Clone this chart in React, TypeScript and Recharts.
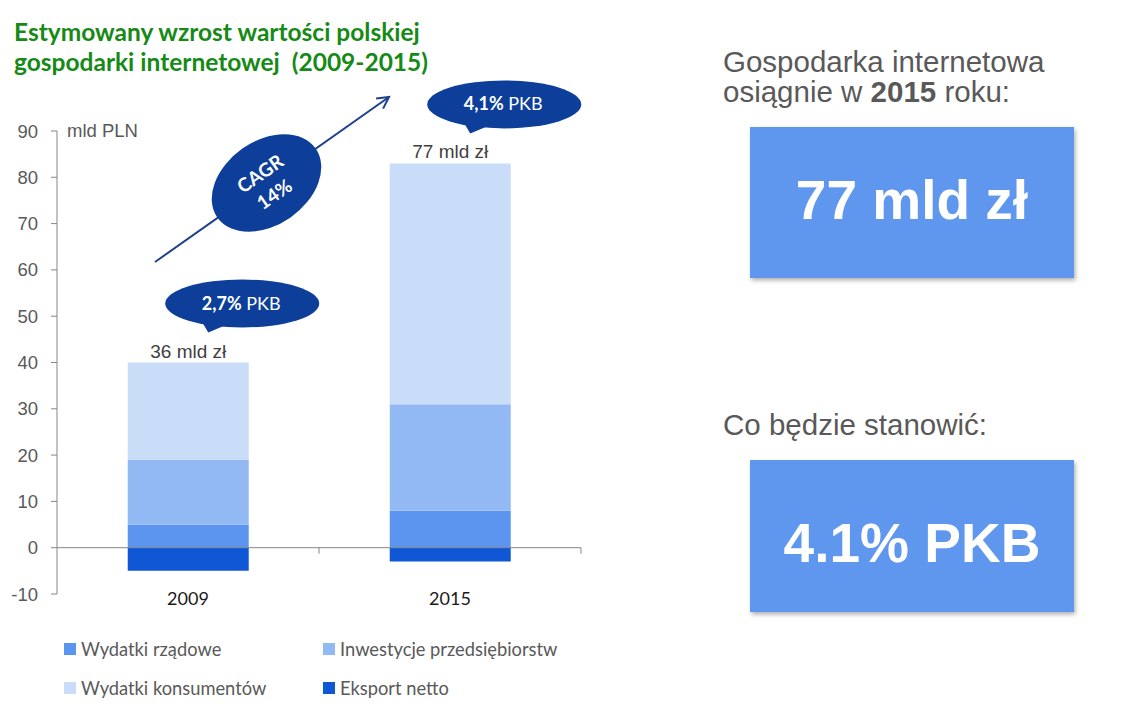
import React from "react";
import { BarChart, Bar, XAxis, YAxis, Legend, LabelList, ReferenceLine } from "recharts";

// values (mld PLN)
const years = ["2009", "2015"];
const wydatkiRzadowe = [5, 8];
const inwestycje = [14, 23];
const konsumenci = [21, 52];
const eksportNetto = [-5, -3];
const totals = ["36 mld zł", "77 mld zł"];
const pkbShare = ["2,7%", "4,1%"];
const yTicks = [-10, 0, 10, 20, 30, 40, 50, 60, 70, 80, 90];

const series = [
  { key: "rzadowe", name: "Wydatki rządowe", color: "#5B95EF" },
  { key: "inwestycje", name: "Inwestycje przedsiębiorstw", color: "#93B9F5" },
  { key: "konsumenci", name: "Wydatki konsumentów", color: "#C9DCF8" },
  { key: "eksport", name: "Eksport netto", color: "#0F57D5" },
];

const data = years.map((year, i) => ({
  year,
  rzadowe: wydatkiRzadowe[i],
  inwestycje: inwestycje[i],
  konsumenci: konsumenci[i],
  eksport: eksportNetto[i],
  total: totals[i],
  pkb: pkbShare[i],
}));

const ARIAL = "'Liberation Sans', Arial, sans-serif";
const CALIBRI = "Lato, 'Open Sans', sans-serif";
const BUBBLE = "#0D3F9A";
const GREY = "#595959";

const ZeroAxis = (props: any) => {
  const x1 = Number(props.x1);
  const x2 = Number(props.x2);
  const y = Number(props.y1);
  const step = (x2 - x1) / years.length;
  return (
    <g>
      <line x1={x1} y1={y} x2={x2} y2={y} stroke="#868686" strokeWidth={1} />
      {years.map((_, i) => (
        <line key={i} x1={x1 + step * (i + 1)} y1={y} x2={x1 + step * (i + 1)} y2={y + 6} stroke="#868686" />
      ))}
    </g>
  );
};

const YearTick = (props: any) => {
  const { x, y, payload } = props;
  return (
    <text x={x} y={Number(y) + 11} textAnchor="middle" fontFamily={CALIBRI} fontSize={18} fill="#1a1a1a">
      {payload.value}
    </text>
  );
};

const TotalLabel = (props: any) => {
  const x = Number(props.x) + Number(props.width) / 2;
  const y = Number(props.y);
  return (
    <text x={x} y={y - 5} textAnchor="middle" fontFamily={ARIAL} fontSize={19} fill="#404040">
      {props.value}
    </text>
  );
};

const PkbBubble = (props: any) => {
  const cx = Number(props.x) + Number(props.width) / 2 + 54;
  const cy = Number(props.y) - 59;
  return (
    <g>
      <path d={`M${cx - 41},${cy + 17} L${cx - 34},${cy + 29} L${cx - 15},${cy + 21} Z`} fill={BUBBLE} />
      <ellipse cx={cx} cy={cy} rx={77} ry={24} fill={BUBBLE} />
      <text x={cx - 1} y={cy + 6} textAnchor="middle" fontFamily={CALIBRI} fontSize={18} fill="#fff">
        <tspan fontWeight={700}>{props.value}</tspan>
        <tspan> PKB</tspan>
      </text>
    </g>
  );
};

const YUnit = (props: any) => {
  const vb = props.viewBox || {};
  return (
    <text x={Number(vb.x) + Number(vb.width) + 10} y={Number(vb.y) + 6} fontFamily={ARIAL} fontSize={18.5} fill={GREY}>
      mld PLN
    </text>
  );
};

const order = series.map((s) => s.key);

const LegendGrid = (props: any) => {
  const items = [...(props.payload || [])].sort(
    (a: any, b: any) => order.indexOf(a.dataKey) - order.indexOf(b.dataKey)
  );
  return (
    <div style={{ display: "grid", gridTemplateColumns: "259px 259px", paddingLeft: 64 }}>
      {items.map((it: any) => (
        <div key={it.value} style={{ display: "flex", alignItems: "center", height: 39 }}>
          <span style={{ width: 12, height: 12, background: it.color, marginRight: 5, flex: "none" }} />
          <span style={{ fontFamily: CALIBRI, fontSize: 18.3, color: GREY, whiteSpace: "nowrap" }}>{it.value}</span>
        </div>
      ))}
    </div>
  );
};

export default function App() {
  return (
    <div style={{ position: "absolute", left: 0, top: 0, width: 1144, height: 721, background: "#fff" }}>
      <div style={{ position: "absolute", left: 0, top: 0 }}>
        <BarChart
          width={600}
          height={721}
          data={data}
          stackOffset="sign"
          barCategoryGap="27%"
          margin={{ top: 131, right: 19, bottom: 97, left: 0 }}
        >
          <ReferenceLine y={0} shape={ZeroAxis} />
          <XAxis
            dataKey="year"
            axisLine={false}
            tickLine={false}
            tickSize={0}
            tickMargin={0}
            height={30}
            tick={YearTick}
          />
          <YAxis
            width={57}
            domain={[-10, 90]}
            ticks={yTicks}
            interval={0}
            axisLine={{ stroke: "#868686" }}
            tickLine={{ stroke: "#868686" }}
            tickSize={6}
            tickMargin={13}
            tick={{ fill: GREY, fontSize: 18.5, fontFamily: ARIAL }}
            label={<YUnit />}
          />
          {series.map((s) => (
            <Bar key={s.key} dataKey={s.key} name={s.name} stackId="a" fill={s.color} isAnimationActive={false}>
              {s.key === "konsumenci" && <LabelList dataKey="total" content={TotalLabel} />}
              {s.key === "konsumenci" && <LabelList dataKey="pkb" content={PkbBubble} />}
            </Bar>
          ))}
          <Legend
            layout="horizontal"
            verticalAlign="middle"
            align="center"
            content={LegendGrid}
            wrapperStyle={{ top: 629, left: 0, width: 600 }}
          />
        </BarChart>
      </div>

      <svg width={1144} height={721} style={{ position: "absolute", left: 0, top: 0, pointerEvents: "none" }}>
        <defs>
          <filter id="boxShadow" x="-5%" y="-5%" width="115%" height="120%">
            <feDropShadow dx="1.5" dy="2.5" stdDeviation="2" floodColor="#000" floodOpacity="0.3" />
          </filter>
        </defs>

        <text fontFamily={CALIBRI} fontWeight={700} fontSize={24.5} fill="#168A16">
          <tspan x={14} y={41}>Estymowany wzrost wartości polskiej</tspan>
          <tspan x={14} y={71}>gospodarki internetowej{"\u00a0"} (2009-2015)</tspan>
        </text>

        <line x1={155} y1={262} x2={389} y2={97} stroke="#1F3F8F" strokeWidth={2} />
        <polyline points="376.1,98.6 389,97 383.1,108.6" fill="none" stroke="#1F3F8F" strokeWidth={2} />
        <g transform="translate(266.5,183) rotate(-35)">
          <ellipse rx={60} ry={42} fill={BUBBLE} />
          <text textAnchor="middle" fontFamily={CALIBRI} fontWeight={700} fontSize={19} fill="#fff">
            <tspan x={0} y={-4.5}>CAGR</tspan>
            <tspan x={0} y={20.5}>14%</tspan>
          </text>
        </g>

        <text fontFamily={ARIAL} fontSize={29.5} fill={GREY}>
          <tspan x={723} y={72}>Gospodarka internetowa</tspan>
          <tspan x={723} y={102}>osiągnie w </tspan>
          <tspan fontWeight={700}>2015</tspan>
          <tspan> roku:</tspan>
        </text>
        <rect x={750} y={127} width={324} height={151} fill="#5F97EF" filter="url(#boxShadow)" />
        <text x={912} y={219} textAnchor="middle" fontFamily={ARIAL} fontWeight={700} fontSize={55} fill="#fff">
          77 mld zł
        </text>

        <text x={723} y={435} fontFamily={ARIAL} fontSize={29.5} fill={GREY}>
          Co będzie stanowić:
        </text>
        <rect x={750} y={460} width={324} height={152} fill="#5F97EF" filter="url(#boxShadow)" />
        <text x={912} y={562} textAnchor="middle" fontFamily={ARIAL} fontWeight={700} fontSize={55} fill="#fff">
          4.1% PKB
        </text>
      </svg>
    </div>
  );
}
